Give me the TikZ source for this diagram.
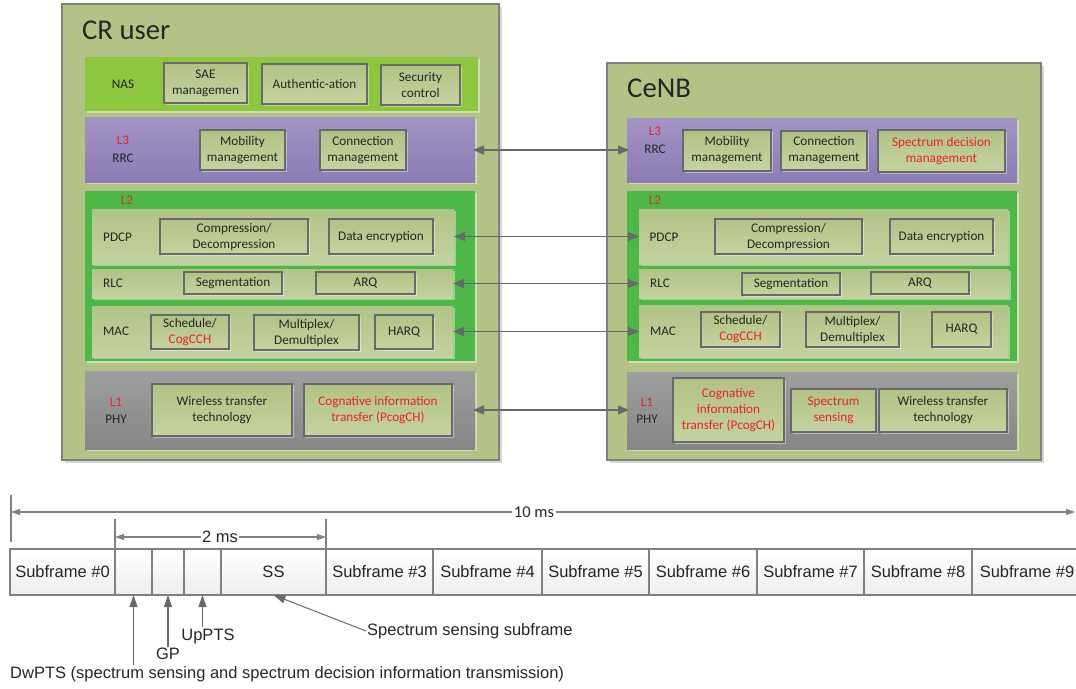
\documentclass[tikz,border=0pt]{standalone}
\usepackage{fontspec}
\setmainfont{Carlito}
\newfontfamily\arialf{Liberation Sans}
\usetikzlibrary{arrows.meta,shadows}
\definecolor{outerfill}{RGB}{179,195,134}
\definecolor{nasfill}{RGB}{141,198,63}
\definecolor{rrctop}{RGB}{163,148,197}
\definecolor{rrcbot}{RGB}{138,123,180}
\definecolor{ltwofill}{RGB}{77,184,72}
\definecolor{subtop}{RGB}{178,195,134}
\definecolor{subbot}{RGB}{196,210,160}
\definecolor{phytop}{RGB}{158,158,158}
\definecolor{phybot}{RGB}{134,134,134}
\definecolor{boxtop}{RGB}{178,194,132}
\definecolor{boxbot}{RGB}{197,211,160}
\definecolor{boxline}{RGB}{105,105,105}
\definecolor{textgray}{RGB}{38,38,38}
\definecolor{lred}{RGB}{232,35,40}
\definecolor{arrgray}{RGB}{105,105,105}
\definecolor{tline}{RGB}{128,128,128}
\newcommand\boxfont{\fontsize{13.2}{16}\selectfont}
\newcommand\tlfont{\arialf\fontsize{16.5}{19}\selectfont}
\newcommand\boxnode[7]{\node[#2,minimum width={(#5)-(#3)},minimum height={(#6)-(#4)}] (#1) at ({((#3)+(#5))/2},{((#4)+(#6))/2}) {#7};}
\tikzset{
  outerbox/.style={draw=tline,line width=1.2pt,fill=outerfill,inner sep=0pt,outer sep=0pt,
    drop shadow={shadow xshift=3pt,shadow yshift=-3pt,fill=black!16,opacity=1}},
  band/.style={inner sep=0pt,outer sep=0pt,
    drop shadow={shadow xshift=2pt,shadow yshift=-2pt,fill=white,opacity=0.4}},
  ibox/.style={band,draw=boxline,line width=1.1pt,top color=boxtop,bottom color=boxbot,
    align=center,font=\boxfont,text=textgray},
  redtxt/.style={text=lred},
  lbl/.style={font=\boxfont,text=textgray,inner sep=0pt},
  title/.style={font=\fontsize{28.7}{32}\selectfont,text=textgray,inner sep=0pt,anchor=west},
  link/.style={arrgray,line width=1.5pt,{Triangle[length=11pt,width=9pt]}-{Triangle[length=11pt,width=9pt]}},
  tbox/.style={draw=tline,line width=1.2pt,top color=white,bottom color=black!7,
    font=\tlfont,text=textgray,inner sep=0pt,outer sep=0pt},
  dim/.style={tline,line width=1.2pt},
  dimarr/.style={dim,{Triangle[length=9pt,width=6pt]}-{Triangle[length=9pt,width=6pt]}},
  uparr/.style={arrgray,line width=1.2pt,-{Triangle[length=12pt,width=8pt]}},
  tlbl/.style={font=\tlfont,text=textgray,inner sep=1pt}
}
\begin{document}
\begin{tikzpicture}[x=1pt,y=-1pt]
\useasboundingbox (0,0) rectangle (1076,688);
% ---------------- CR user ----------------
\boxnode{cru}{outerbox}{62}{4}{499}{460}{}
\node[title] (crutitle) at (82,30) {CR user};
% NAS
\boxnode{nasA}{band,fill=nasfill}{85}{57}{478}{111}{}
\node[lbl] (nasAl) at (123,84) {NAS};
\boxnode{saeA}{ibox}{164}{63}{247}{103}{SAE\\managemen}
\boxnode{authA}{ibox}{262}{64}{367}{104}{Authentic-ation}
\boxnode{secA}{ibox}{381}{65}{460}{105}{Security\\control}
% RRC
\boxnode{rrcA}{band,top color=rrctop,bottom color=rrcbot}{85}{117}{475}{182}{}
\node[lbl,redtxt] (l3A) at (123,140) {L3};
\node[lbl] (rrcAl) at (123,158) {RRC};
\boxnode{mobA}{ibox}{200}{130}{285}{170}{Mobility\\management}
\boxnode{conA}{ibox}{320}{130}{406}{170}{Connection\\management}
% L2
\boxnode{ltwoA}{band,fill=ltwofill}{85}{191}{475}{361}{}
\node[lbl,redtxt] (l2A) at (127,200) {L2};
\boxnode{pdcpA}{band,top color=subtop,bottom color=subbot}{92}{209}{454}{264}{}
\node[lbl,anchor=west] (pdcpAl) at (103,237) {PDCP};
\boxnode{compA}{ibox}{160}{219}{308}{254}{Compression/\\Decompression}
\boxnode{encA}{ibox}{329}{219}{433}{254}{Data encryption}
\boxnode{rlcA}{band,top color=subtop,bottom color=subbot}{92}{269}{453}{298}{}
\node[lbl,anchor=west] (rlcAl) at (103,283) {RLC};
\boxnode{segA}{ibox}{184}{272}{282}{294}{Segmentation}
\boxnode{arqA}{ibox}{316}{272}{415}{294}{ARQ}
\boxnode{macA}{band,top color=subtop,bottom color=subbot}{92}{306}{453}{357}{}
\node[lbl,anchor=west] (macAl) at (103,331) {MAC};
\boxnode{schA}{ibox}{151}{315}{229}{349}{Schedule/\\\textcolor{lred}{CogCCH}}
\boxnode{muxA}{ibox}{254}{315}{359}{350}{Multiplex/\\Demultiplex}
\boxnode{harqA}{ibox}{375}{315}{433}{349}{HARQ}
% PHY
\boxnode{phyA}{band,top color=phytop,bottom color=phybot}{85}{371}{475}{449}{}
\node[lbl,redtxt] (l1A) at (116,402) {L1};
\node[lbl] (phyAl) at (116,419) {PHY};
\boxnode{wirA}{ibox}{152}{384}{292}{436}{Wireless transfer\\technology}
\boxnode{cogA}{ibox,redtxt}{304}{384}{452}{436}{Cognative information\\transfer (PcogCH)}
% ---------------- CeNB ----------------
\boxnode{enb}{outerbox}{607}{63}{1041}{460}{}
\node[title] (enbtitle) at (627,88) {CeNB};
\boxnode{rrcB}{band,top color=rrctop,bottom color=rrcbot}{627}{118}{1017}{182}{}
\node[lbl,redtxt] (l3B) at (655,131) {L3};
\node[lbl] (rrcBl) at (655,149) {RRC};
\boxnode{mobB}{ibox}{683}{130}{771}{171}{Mobility\\management}
\boxnode{conB}{ibox}{781}{131}{867}{170}{Connection\\management}
\boxnode{sdmB}{ibox,redtxt}{878}{130}{1005}{172}{Spectrum decision\\management}
\boxnode{ltwoB}{band,fill=ltwofill}{627}{191}{1017}{361}{}
\node[lbl,redtxt] (l2B) at (655,200) {L2};
\boxnode{pdcpB}{band,top color=subtop,bottom color=subbot}{639}{209}{1008}{264}{}
\node[lbl] (pdcpBl) at (664,237) {PDCP};
\boxnode{compB}{ibox}{715}{219}{862}{254}{Compression/\\Decompression}
\boxnode{encB}{ibox}{890}{219}{993}{254}{Data encryption}
\boxnode{rlcB}{band,top color=subtop,bottom color=subbot}{639}{269}{1009}{298}{}
\node[lbl] (rlcBl) at (660,283) {RLC};
\boxnode{segB}{ibox}{742}{273}{840}{295}{Segmentation}
\boxnode{arqB}{ibox}{871}{272}{969}{294}{ARQ}
\boxnode{macB}{band,top color=subtop,bottom color=subbot}{639}{305}{1008}{357}{}
\node[lbl] (macBl) at (663,331) {MAC};
\boxnode{schB}{ibox}{701}{312}{780}{347}{Schedule/\\\textcolor{lred}{CogCCH}}
\boxnode{muxB}{ibox}{806}{312}{899}{347}{Multiplex/\\Demultiplex}
\boxnode{harqB}{ibox}{932}{312}{991}{347}{HARQ}
\boxnode{phyB}{band,top color=phytop,bottom color=phybot}{627}{372}{1017}{449}{}
\node[lbl,redtxt] (l1B) at (647,402) {L1};
\node[lbl] (phyBl) at (647,419) {PHY};
\boxnode{cogB}{ibox,redtxt}{673}{378}{784}{442}{Cognative\\information\\transfer (PcogCH)}
\boxnode{ssB}{ibox,redtxt}{791}{389}{876}{432}{Spectrum\\sensing}
\boxnode{wirB}{ibox}{879}{389}{1007}{432}{Wireless transfer\\technology}
% ---------------- links ----------------
\draw[link,shorten <=-2pt,shorten >=-2pt] ([yshift=-0.5pt]rrcA.east) -- ([yshift=-0.5pt]rrcA.east -| rrcB.west);
\draw[link] (pdcpA.east) -- (pdcpA.east -| pdcpB.west);
\draw[link] (rlcA.east) -- (rlcA.east -| rlcB.west);
\draw[link] (macA.east) -- (macA.east -| macB.west);
\draw[link,shorten <=-2pt,shorten >=-2pt] (phyA.east) -- (phyA.east -| phyB.west);
% ---------------- timeline ----------------
\boxnode{sf0}{tbox}{10}{549}{115}{595}{Subframe \#0}
\boxnode{s1}{tbox}{115}{549}{152}{595}{}
\boxnode{s2}{tbox}{152}{549}{184}{595}{}
\boxnode{s3}{tbox}{184}{549}{221}{595}{}
\boxnode{ss}{tbox}{221}{549}{326}{595}{SS}
\boxnode{sf3}{tbox}{326}{549}{433}{595}{Subframe \#3}
\boxnode{sf4}{tbox}{433}{549}{542}{595}{Subframe \#4}
\boxnode{sf5}{tbox}{542}{549}{649}{595}{Subframe \#5}
\boxnode{sf6}{tbox}{649}{549}{757}{595}{Subframe \#6}
\boxnode{sf7}{tbox}{757}{549}{864}{595}{Subframe \#7}
\boxnode{sf8}{tbox}{864}{549}{972}{595}{Subframe \#8}
\boxnode{sf9}{tbox}{972}{549}{1082}{595}{Subframe \#9}
% 10 ms
\coordinate (t10a) at (11,495);
\coordinate (t10b) at (11,542);
\coordinate (a10l) at (11,512);
\coordinate (a10r) at (1075,512);
\draw[dim] (t10a) -- (t10b);
\draw[dimarr] (a10l) -- (a10r);
\node[fill=white,inner sep=1.5pt,font=\fontsize{16.5}{19}\selectfont,text=textgray] (l10) at (534,512) {10 ms};
% 2 ms
\coordinate (t2a) at (115,519);
\coordinate (t2b) at (326,519);
\draw[dim] (t2a) -- (s1.north west);
\draw[dim] (t2b) -- (ss.north east);
\coordinate (a2l) at (115,537);
\coordinate (a2r) at (326,537);
\draw[dimarr] (a2l) -- (a2r);
\node[fill=white,inner sep=1.5pt,font=\tlfont,text=textgray] (l2) at (220,537) {2 ms};
% labels and arrows
\node[tlbl,anchor=west] (dw) at (9,674) {DwPTS (spectrum sensing and spectrum decision information transmission)};
\node[tlbl] (gp) at (168,654) {GP};
\node[tlbl] (up) at (208,636) {UpPTS};
\node[tlbl,anchor=west] (specl) at (366,631) {Spectrum sensing subframe};
\draw[uparr] (s1.south |- dw.north) -- (s1.south);
\draw[uparr] (s2.south |- gp.north) -- (s2.south);
\draw[uparr] (s3.south |- up.north) -- (s3.south);
\draw[uparr,line width=1pt] (specl.west) -- (ss.south);
\end{tikzpicture}
\end{document}
